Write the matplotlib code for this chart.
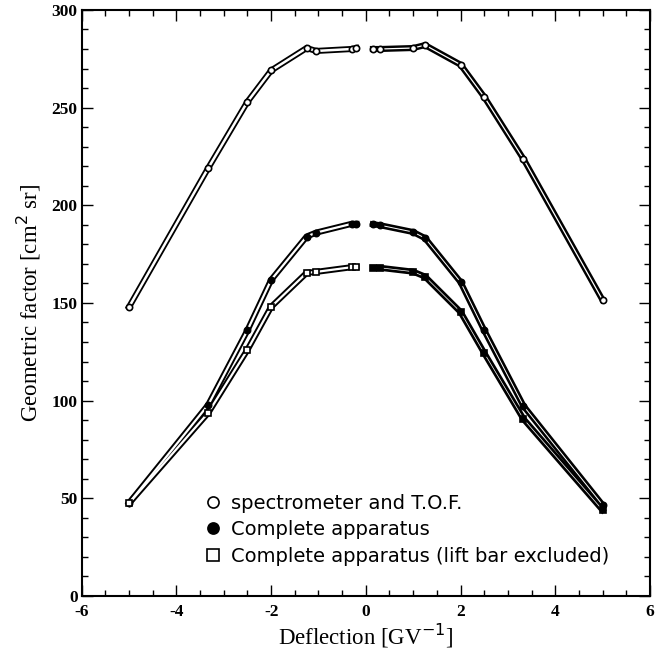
import matplotlib
matplotlib.use("Agg")
import matplotlib.pyplot as plt
from matplotlib.lines import Line2D
from matplotlib.ticker import MultipleLocator

plt.rcParams["axes.unicode_minus"] = False

# deflection values [GV^-1], negative and positive branches
x_neg = [-5, -3.33, -2.5, -2, -1.25, -1.05, -0.3, -0.2]
x_pos = [0.15, 0.3, 1.0, 1.25, 2, 2.5, 3.33, 5]

# spectrometer and T.O.F.
tof_neg = [148, 219, 253, 269, 280.5, 279, 280, 280.5]
tof_pos = [280, 280, 280.5, 282, 272, 255.5, 223.7, 151.5]

# complete apparatus
app_neg = [47.6, 97.8, 136, 161.8, 184, 186, 190.5, 190.5]
app_pos = [190.3, 189.8, 186.3, 183.2, 160.7, 136, 97.3, 46.6]

# complete apparatus (lift bar excluded)
lift_neg = [47.5, 93.7, 126, 148, 165.4, 165.9, 168.3, 168.3]
lift_pos = [168, 168, 166, 163.5, 145.4, 124.4, 90.6, 44]

legend_labels = ["spectrometer and T.O.F.", "Complete apparatus",
                 "Complete apparatus (lift bar excluded)"]

fig = plt.figure(figsize=(6.7, 6.49), dpi=100)
ax = fig.add_axes([0.122, 0.0817, 0.848, 0.903])

def draw(x, y, marker, mfc, inner):
    ax.plot(x, y, color="black", lw=4.4, solid_joinstyle="miter", zorder=2)
    ax.plot(x, y, color="white", lw=inner, zorder=3)
    ax.plot(x, y, ls="none", marker=marker, ms=4.5, mfc=mfc, mec="black",
            mew=1.2, zorder=4)

draw(x_neg, tof_neg, "o", "white", 1.8)
draw(x_neg, app_neg, "o", "black", 1.6)
draw(x_neg, lift_neg, "s", "white", 1.6)
draw(x_pos, tof_pos, "o", "white", 0.9)
draw(x_pos, app_pos, "o", "black", 0.7)
draw(x_pos, lift_pos, "s", "black", 0.5)

ax.set_xlim(-6, 6)
ax.set_ylim(0, 300)
ax.xaxis.set_major_locator(MultipleLocator(2))
ax.xaxis.set_minor_locator(MultipleLocator(0.5))
ax.yaxis.set_major_locator(MultipleLocator(50))
ax.yaxis.set_minor_locator(MultipleLocator(10))
ax.tick_params(which="both", direction="in", top=True, right=True)
ax.tick_params(which="major", length=8, width=1)
ax.tick_params(which="minor", length=4, width=1)
ax.tick_params(axis="x", pad=6)
ax.tick_params(axis="y", pad=3)
for s in ax.spines.values():
    s.set_linewidth(1.5)

for lab in ax.get_xticklabels() + ax.get_yticklabels():
    lab.set_family("Liberation Serif")
    lab.set_fontweight("bold")
    lab.set_fontsize(12.5)

ax.set_xlabel("Deflection [GV$^{-1}$]", family="Liberation Serif",
              fontsize=16.5, labelpad=1)
ax.set_ylabel("Geometric factor [cm$^{2}$ sr]", family="Liberation Serif",
              fontsize=16.5, labelpad=6)

handles = [
    Line2D([], [], ls="none", marker="o", ms=8, mfc="white", mec="black", mew=1.2),
    Line2D([], [], ls="none", marker="o", ms=8, mfc="black", mec="black", mew=1.2),
    Line2D([], [], ls="none", marker="s", ms=8, mfc="white", mec="black", mew=1.2),
]
leg = ax.legend(handles, legend_labels, loc="lower left",
                bbox_to_anchor=(0.185, 0.022), frameon=False,
                prop={"family": "DejaVu Sans", "size": 14},
                handlelength=0.9, handletextpad=0.45, labelspacing=0.38)

fig.savefig("out.png", dpi=100)
